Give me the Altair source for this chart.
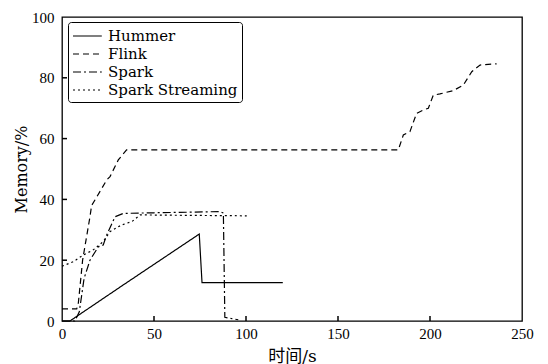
import altair as alt
import pandas as pd

series_names = ["Hummer", "Flink", "Spark", "Spark Streaming"]

hummer_x = [0, 4.3, 32.4, 74.6, 76.1, 120]
hummer_y = [0, 0, 11.5, 28.6, 12.6, 12.6]

flink_x = [0, 8, 8.9, 11.2, 15.2, 16.1, 17.9, 21.6, 24.3, 26.1, 30.6, 35.1, 182.8, 185.5, 189.1,
           192.7, 196.4, 199.1, 201.8, 205.4, 212.7, 218.1, 222.7, 227.2, 236.2]
flink_y = [4, 4, 6, 20, 34.3, 38, 39.8, 43.6, 46.4, 47.5, 53, 56.3, 56.3, 61.2, 62.3,
           68.3, 69.4, 70, 74.3, 74.7, 75.8, 77.6, 82, 84.2, 84.6]

spark_x = [0, 7, 9.4, 12, 15.2, 19.7, 22.4, 24.3, 28.8, 33.3, 50, 70, 85.9, 87.7, 88.5, 95.8]
spark_y = [0, 0, 3, 14, 20, 24.4, 25, 28.3, 34.3, 35.4, 35.6, 35.8, 36, 35.5, 1.2, 0.4]

ss_x = [0, 6.1, 11.6, 17, 22.4, 26.1, 32.4, 38, 42.4, 60, 80, 100.4]
ss_y = [18, 19.5, 21.7, 23.4, 26.1, 29.4, 31.6, 32.7, 34.9, 34.8, 34.7, 34.6]

x_ticks = [0, 50, 100, 150, 200, 250]
y_ticks = [0, 20, 40, 60, 80, 100]

rows = []
for name, xs, ys in [("Hummer", hummer_x, hummer_y), ("Flink", flink_x, flink_y),
                     ("Spark", spark_x, spark_y), ("Spark Streaming", ss_x, ss_y)]:
    for i, (a, b) in enumerate(zip(xs, ys)):
        rows.append({"series": name, "t": a, "mem": b, "order": i})
df = pd.DataFrame(rows)

TICKFONT = "'Liberation Serif', 'Noto Sans CJK SC', serif"
TEXTFONT = "'DejaVu Serif', 'Noto Sans CJK SC', serif"
W, H = 460, 304

xscale = alt.Scale(domain=[0, 250], nice=False)
yscale = alt.Scale(domain=[0, 100], nice=False)

lines = alt.Chart(df).mark_line(color="black", strokeWidth=1.2).encode(
    x=alt.X("t:Q", scale=xscale, title="时间/s",
            axis=alt.Axis(values=x_ticks, tickSize=0, labelPadding=5, domain=False, grid=False,
                          titlePadding=7, titleFontSize=17)),
    y=alt.Y("mem:Q", scale=yscale, title="Memory/%",
            axis=alt.Axis(values=y_ticks, tickSize=0, labelPadding=8, domain=False, grid=False,
                          titlePadding=2, titleFontSize=16)),
    strokeDash=alt.StrokeDash("series:N",
        scale=alt.Scale(domain=series_names,
                        range=[[1, 0], [6, 4], [8, 3, 2, 3], [2, 3]]),
        legend=alt.Legend(title=None, orient="none", legendX=6, legendY=5,
                          symbolType="M-1,0H2.2", symbolSize=324, symbolStrokeColor="black",
                          symbolFillColor="transparent",
                          symbolStrokeWidth=1.2, labelFontSize=15, labelFont=TEXTFONT,
                          labelColor="black", strokeColor="black", cornerRadius=3,
                          padding=4, rowPadding=0, labelOffset=16, fillColor="white",
                          labelLimit=300)),
    order="order:Q",
)

xt = pd.DataFrame({"v": x_ticks[1:-1]})
yt = pd.DataFrame({"v": y_ticks[1:-1]})
xticks = alt.Chart(xt).mark_rule(color="black", strokeWidth=1.5).encode(
    x=alt.X("v:Q", scale=xscale), y=alt.value(H), y2=alt.value(H - 5))
yticks = alt.Chart(yt).mark_rule(color="black", strokeWidth=1.5).encode(
    y=alt.Y("v:Q", scale=yscale), x=alt.value(0), x2=alt.value(5))

chart = alt.layer(lines, xticks, yticks).properties(
    width=W, height=H,
    background="white",
    autosize=alt.AutoSizeParams(type="none"),
    padding={"left": 54, "top": 9, "right": 18, "bottom": 43},
).configure_view(stroke="black", strokeWidth=1.3).configure_axis(
    labelFont=TICKFONT, labelFontSize=15, labelColor="black", titleFont=TEXTFONT,
    titleFontWeight="normal", titleColor="black", labelFlush=False
)

chart.save("out.html", embed_options={"renderer": "svg", "actions": False})
